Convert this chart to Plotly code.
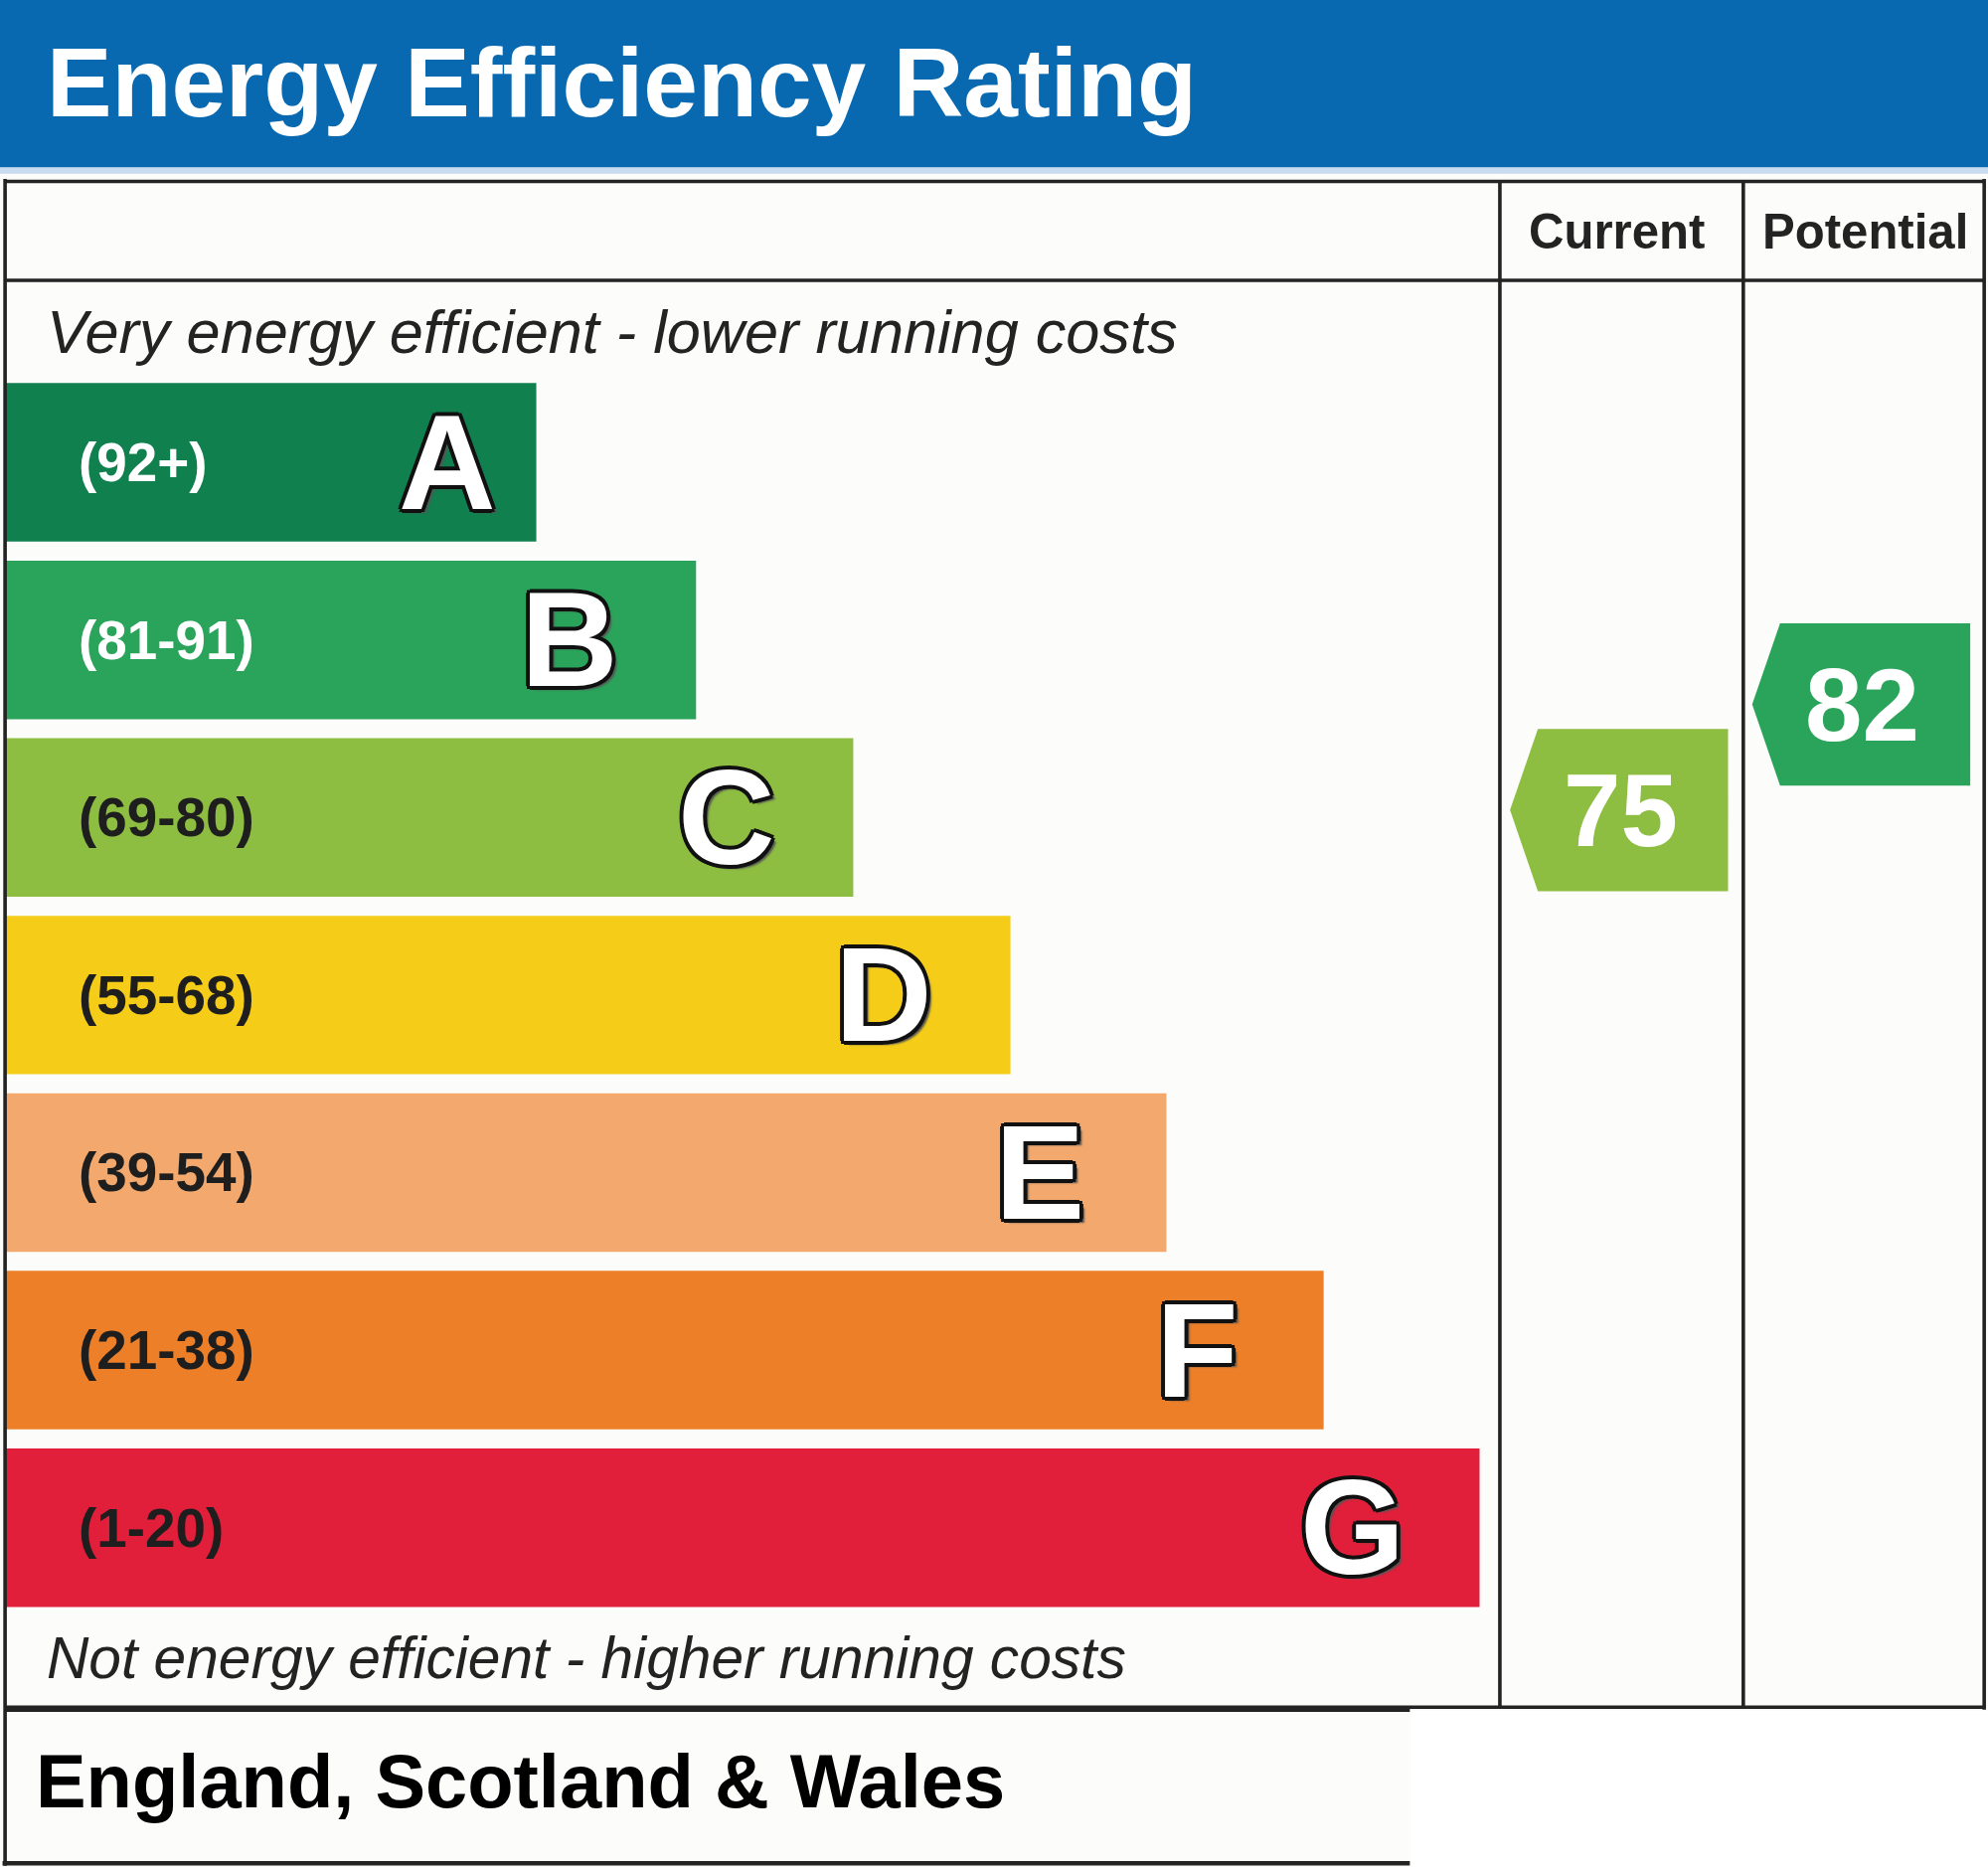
import plotly.graph_objects as go

# EPC bands, top (most efficient) to bottom
bands = ["A", "B", "C", "D", "E", "F", "G"]
score_ranges = ["(92+)", "(81-91)", "(69-80)", "(55-68)", "(39-54)", "(21-38)", "(1-20)"]
band_low = [92, 81, 69, 55, 39, 21, 1]
band_high = [100, 91, 80, 68, 54, 38, 20]
band_length = [419, 545, 669, 793, 916, 1040, 1163]
band_colours = ["#10804f", "#2aa45a", "#8dbd41", "#f5cd19", "#f3a96d", "#ec7f28", "#e21f3a"]
range_text_colours = ["#ffffff", "#ffffff", "#1e1e1e", "#1e1e1e", "#1e1e1e", "#1e1e1e", "#1e1e1e"]

column_names = ["Current", "Potential"]
ratings = [75, 82]

# reference drawing units (the picture is laid out on a 1568 x 1472 grid)
W, H = 1568, 1472
K = 2000 / W          # font scale to the real page
ROW0, ROW_STEP = 364.5, 140.0
FONT = "Liberation Sans, Arial, sans-serif"
INK = "#232323"


def py(y):
    return 1 - y / H


def band_pos(score):
    for i, (lo, hi) in enumerate(zip(band_low, band_high)):
        if lo <= score <= hi:
            return i - 0.5 + (hi + 0.5 - score) / (hi - lo + 1)
    return len(bands) - 0.5


fig = go.Figure()

# rating bars
fig.add_trace(go.Bar(
    orientation="h", y=list(range(len(bands))), x=band_length, base=4,
    width=125 / ROW_STEP, marker=dict(color=band_colours, line=dict(width=0)),
    hoverinfo="skip", showlegend=False,
))

annotations = []
for i, (b, r, ln) in enumerate(zip(bands, score_ranges, band_length)):
    annotations.append(dict(
        x=60, y=i, xref="x", yref="y", text=f"<b>{r}</b>", showarrow=False,
        xanchor="left", yanchor="middle",
        font=dict(family=FONT, size=43 * K, color=range_text_colours[i]),
    ))
    off = 70 if b == "A" else 100
    annotations.append(dict(
        x=4 + ln - off, y=i, xref="x", yref="y", text=f"<b>{b}</b>", showarrow=False,
        xanchor="center", yanchor="middle",
        font=dict(family=FONT, size=106 * K, color="#ffffff",
                  shadow="4px 0 0 #111, -4px 0 0 #111, 0 4px 0 #111, 0 -4px 0 #111, "
                         "3px 3px 0 #111, -3px 3px 0 #111, 3px -3px 0 #111, -3px -3px 0 #111, "
                         "5px 4px 2px #555"),
    ))

# current / potential arrows, placed by score inside its band
col_edges = [(1183, 1375), (1375, 1565)]
half_h = 64 / ROW_STEP
for (c0, c1), val in zip(col_edges, ratings):
    centre = (c0 + c1) / 2 - 2
    x0, x1 = centre - 86, centre + 86
    yc = band_pos(val)
    idx = min(range(len(bands)), key=lambda j: abs(j - yc))
    tip = 22
    fig.add_trace(go.Scatter(
        x=[x0 + tip, x0, x0 + tip, x1, x1, x0 + tip],
        y=[yc - half_h, yc, yc + half_h, yc + half_h, yc - half_h, yc - half_h],
        mode="lines", fill="toself", fillcolor=band_colours[idx],
        line=dict(width=0, color=band_colours[idx]), hoverinfo="skip", showlegend=False,
    ))
    annotations.append(dict(
        x=centre + 1, y=yc, xref="x", yref="y", text=f"<b>{val}</b>", showarrow=False,
        xanchor="center", yanchor="middle",
        font=dict(family=FONT, size=81 * K, color="#ffffff"),
    ))

# header and labels
annotations += [
    dict(x=35 / W, y=py(65), xref="paper", yref="paper", text="<b>Energy Efficiency Rating</b>",
         showarrow=False, xanchor="left", yanchor="middle",
         font=dict(family=FONT, size=77 * K, color="#ffffff")),
    dict(x=1275 / W, y=py(183), xref="paper", yref="paper", text=f"<b>{column_names[0]}</b>",
         showarrow=False, xanchor="center", yanchor="middle",
         font=dict(family=FONT, size=38.5 * K, color=INK)),
    dict(x=1471 / W, y=py(183), xref="paper", yref="paper", text=f"<b>{column_names[1]}</b>",
         showarrow=False, xanchor="center", yanchor="middle",
         font=dict(family=FONT, size=38.5 * K, color=INK)),
    dict(x=35 / W, y=py(262), xref="paper", yref="paper",
         text="<i>Very energy efficient - lower running costs</i>",
         showarrow=False, xanchor="left", yanchor="middle",
         font=dict(family=FONT, size=48 * K, color=INK)),
    dict(x=35 / W, y=py(1307), xref="paper", yref="paper",
         text="<i>Not energy efficient - higher running costs</i>",
         showarrow=False, xanchor="left", yanchor="middle",
         font=dict(family=FONT, size=46 * K, color=INK)),
    dict(x=27 / W, y=py(1404), xref="paper", yref="paper", text="<b>England, Scotland & Wales</b>",
         showarrow=False, xanchor="left", yanchor="middle",
         font=dict(family=FONT, size=59.5 * K, color="#000000")),
]

shapes = [
    dict(type="rect", xref="paper", yref="paper", x0=0, x1=1, y0=py(0), y1=py(132),
         fillcolor="#0869b1", line=dict(width=0), layer="below"),
    dict(type="rect", xref="paper", yref="paper", x0=0, x1=1, y0=py(132), y1=py(137),
         fillcolor="#c9dcef", line=dict(width=0), layer="below"),
    dict(type="rect", xref="paper", yref="paper", x0=1112 / W, x1=1, y0=py(1349), y1=0,
         fillcolor="#ffffff", line=dict(width=0), layer="below"),
]


def hline(y, xa, xb, w=3.6):
    shapes.append(dict(type="line", xref="x", yref="paper", x0=xa, x1=xb, y0=py(y), y1=py(y),
                       line=dict(color=INK, width=w)))


def vline(x, ya, yb, w=3.6):
    shapes.append(dict(type="line", xref="x", yref="paper", x0=x, x1=x, y0=py(ya), y1=py(yb),
                       line=dict(color=INK, width=w)))


hline(143, 4, 1565)
hline(221, 4, 1565)
hline(1346, 4, 1565)
hline(1348, 4, 1112, 4.5)
hline(1469, 2, 1112, 4.5)
vline(4, 141, 1471)
vline(1565, 141, 1348)
vline(1183, 143, 1346)
vline(1375, 143, 1346)

fig.update_layout(
    width=2000, height=1878,
    margin=dict(l=0, r=0, t=0, b=0),
    paper_bgcolor="#fcfcfa", plot_bgcolor="rgba(0,0,0,0)",
    xaxis=dict(range=[0, W], visible=False, fixedrange=True),
    yaxis=dict(range=[(H - ROW0) / ROW_STEP, -ROW0 / ROW_STEP], visible=False, fixedrange=True),
    shapes=shapes, annotations=annotations, showlegend=False,
)

# page has a default body margin; drop it so the chart sits flush in the window
fig.write_html("out.html", config={"displayModeBar": False},
               post_script="document.body.style.margin='0';")
